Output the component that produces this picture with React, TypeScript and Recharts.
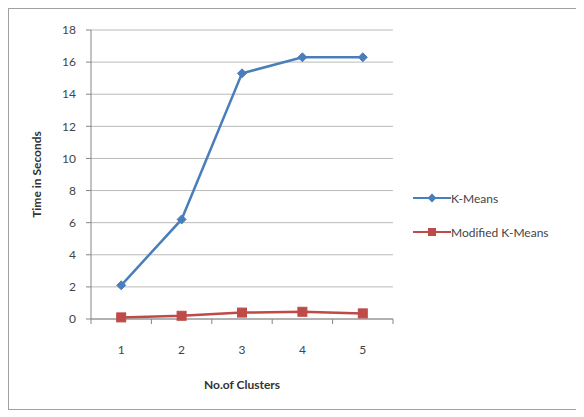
import React from "react";
import { LineChart, Line, XAxis, YAxis, CartesianGrid, Label } from "recharts";

const clusters = ["1", "2", "3", "4", "5"];
const kMeans = [2.1, 6.2, 15.3, 16.3, 16.3];
const modifiedKMeans = [0.1, 0.2, 0.4, 0.45, 0.35];
const yTicks = [0, 2, 4, 6, 8, 10, 12, 14, 16, 18];

const data = clusters.map((c, i) => ({ c, km: kMeans[i], mkm: modifiedKMeans[i] }));

const FONT = "Lato, 'Open Sans', sans-serif";

const Diamond = (props: any) => {
  const { cx, cy } = props;
  if (cx == null || cy == null) return null;
  const s = 4.5;
  return <path d={`M${cx},${cy - s}L${cx + s},${cy}L${cx},${cy + s}L${cx - s},${cy}Z`} fill="#4A7EBB" stroke="#4A7EBB" />;
};
const Square = (props: any) => {
  const { cx, cy } = props;
  if (cx == null || cy == null) return null;
  const s = 4.5;
  return <rect x={cx - s} y={cy - s} width={2 * s} height={2 * s} fill="#BE4B48" stroke="#BE4B48" />;
};

const XTick = (props: any) => {
  const { x, y, payload, index } = props;
  const off = payload.offset || 0;
  return (
    <g>
      <line x1={x - off} x2={x - off} y1={y - 8} y2={y - 3} stroke="#868686" />
      {index === clusters.length - 1 && (
        <line x1={x + off} x2={x + off} y1={y - 8} y2={y - 3} stroke="#868686" />
      )}
      <text x={x} y={y + 27} textAnchor="middle" fill="#444" fontSize={12} fontFamily={FONT}>
        {payload.value}
      </text>
    </g>
  );
};

const LegendBox = () => (
  <div style={{ position: "absolute", left: 404, top: 180, fontFamily: FONT, fontSize: 12, color: "#444" }}>
    <div style={{ display: "flex", alignItems: "center", height: 18, marginBottom: 16 }}>
      <svg width={38} height={12}>
        <line x1={0} x2={38} y1={6} y2={6} stroke="#4A7EBB" strokeWidth={2} />
        <path d="M19,1.5L23.5,6L19,10.5L14.5,6Z" fill="#4A7EBB" />
      </svg>
      <span>K-Means</span>
    </div>
    <div style={{ display: "flex", alignItems: "center", height: 18 }}>
      <svg width={38} height={12}>
        <line x1={0} x2={38} y1={6} y2={6} stroke="#BE4B48" strokeWidth={2} />
        <rect x={15} y={2} width={8} height={8} fill="#BE4B48" />
      </svg>
      <span>Modified K-Means</span>
    </div>
  </div>
);

export default function App() {
  return (
    <div style={{ position: "relative", width: 570, height: 402, border: "1px solid #A0A0A0", boxSizing: "border-box", background: "#fff" }}>
      <LineChart width={568} height={400} data={data} margin={{ top: 21, right: 184, bottom: 20, left: 32 }}>
        <CartesianGrid horizontal={true} vertical={false} stroke="#8C8C8C" strokeOpacity={0.6} />
        <XAxis
          dataKey="c"
          scale="band"
          axisLine={{ stroke: "#868686" }}
          tickLine={false}
          tick={<XTick />}
          interval={0}
          height={70}
        >
          <Label value="No.of Clusters" position="insideBottom" offset={0} style={{ fontFamily: FONT, fontSize: 12, fontWeight: 700, fill: "#333" }} />
        </XAxis>
        <YAxis
          domain={[0, 18]}
          ticks={yTicks}
          width={50}
          interval={0}
          axisLine={{ stroke: "#868686" }}
          tickLine={{ stroke: "#868686" }}
          tickSize={5}
          tickMargin={10}
          tick={{ fontFamily: FONT, fontSize: 12, fill: "#444" }}
        >
          <Label value="Time in Seconds" angle={-90} position="insideLeft" offset={-4} style={{ fontFamily: FONT, fontSize: 12, fontWeight: 700, fill: "#333", textAnchor: "middle" }} />
        </YAxis>
        <Line dataKey="km" name="K-Means" stroke="#4A7EBB" strokeWidth={2.5} dot={<Diamond />} isAnimationActive={false} />
        <Line dataKey="mkm" name="Modified K-Means" stroke="#BE4B48" strokeWidth={2.5} dot={<Square />} isAnimationActive={false} />
      </LineChart>
      <LegendBox />
    </div>
  );
}
